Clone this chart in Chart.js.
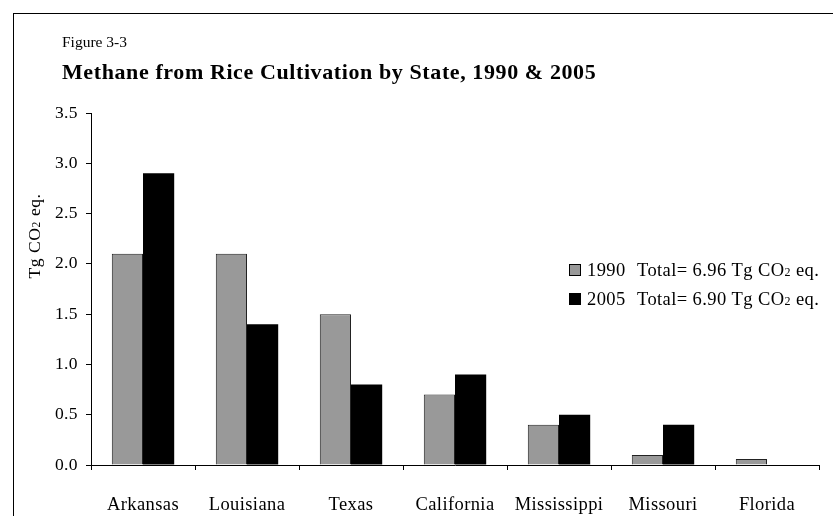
<!DOCTYPE html>
<html>
<head>
<meta charset="utf-8">
<script src="https://cdn.jsdelivr.net/npm/chart.js@4/dist/chart.umd.min.js"></script>
<style>
  html, body { margin: 0; padding: 0; background: #fff; }
  #wrap { position: relative; width: 833px; height: 516px; }
</style>
</head>
<body>
<div id="wrap"><canvas id="c" width="833" height="516"></canvas></div>
<script>
const states = ["Arkansas", "Louisiana", "Texas", "California", "Mississippi", "Missouri", "Florida"];
const values1990 = [2.1, 2.1, 1.5, 0.7, 0.4, 0.1, 0.06];
const values2005 = [2.9, 1.4, 0.8, 0.9, 0.5, 0.4, 0];
const seriesYears = ["1990", "2005"];
const seriesTotals = ["6.96", "6.90"];
const yTicks = [0, 0.5, 1.0, 1.5, 2.0, 2.5, 3.0, 3.5];
const figureLabel = "Figure 3-3";
const titleText = "Methane from Rice Cultivation by State, 1990 & 2005";

const SERIF = "'Liberation Serif', 'Times New Roman', serif";
const GRAY = "#999999";

function measureParts(ctx, parts) {
  let w = 0;
  for (const [t, size] of parts) {
    ctx.font = size + "px " + SERIF;
    w += ctx.measureText(t).width;
  }
  return w;
}
function drawParts(ctx, x, y, parts) {
  let cx = x;
  for (const [t, size, dy] of parts) {
    ctx.font = size + "px " + SERIF;
    ctx.fillText(t, cx, y + dy);
    cx += ctx.measureText(t).width;
  }
  return cx;
}

const spacing = {
  id: "spacing",
  beforeDraw(chart) {
    chart.ctx.letterSpacing = "0.4px";
  }
};

const decor = {
  id: "decor",
  afterDraw(chart) {
    const ctx = chart.ctx;
    ctx.save();
    ctx.strokeStyle = "#000";
    ctx.lineWidth = 1;
    ctx.strokeRect(13.5, 13.5, 820, 520);
    ctx.fillStyle = "#000";
    ctx.textBaseline = "alphabetic";
    ctx.textAlign = "left";
    // figure label
    ctx.letterSpacing = "0px";
    ctx.font = "15.5px " + SERIF;
    ctx.fillText(figureLabel, 62, 47);
    // title
    ctx.letterSpacing = "0.6px";
    ctx.font = "bold 22px " + SERIF;
    ctx.fillText(titleText, 62, 79);
    // y axis title
    ctx.save();
    ctx.letterSpacing = "0.6px";
    ctx.translate(40, 236);
    ctx.rotate(-Math.PI / 2);
    const yParts = [["Tg CO", 17.5, 0], ["2", 11.5, 0], [" eq.", 17.5, 0]];
    const tw = measureParts(ctx, yParts);
    drawParts(ctx, -tw / 2, 0, yParts);
    ctx.restore();
    // legend
    ctx.letterSpacing = "0.4px";
    const rows = [
      { fill: GRAY, year: seriesYears[0], tot: seriesTotals[0], y: 276 },
      { fill: "#000", year: seriesYears[1], tot: seriesTotals[1], y: 305 }
    ];
    for (const r of rows) {
      ctx.fillStyle = r.fill;
      ctx.fillRect(569, r.y - 12, 12, 12);
      ctx.strokeStyle = "#000";
      ctx.lineWidth = 1;
      ctx.strokeRect(569.5, r.y - 11.5, 11, 11);
      ctx.fillStyle = "#000";
      ctx.font = "18.5px " + SERIF;
      ctx.fillText(r.year, 587, r.y);
      drawParts(ctx, 637, r.y, [["Total= " + r.tot + " Tg CO", 18.5, 0], ["2", 12, 0], [" eq.", 18.5, 0]]);
    }
    ctx.restore();
  }
};

new Chart(document.getElementById("c"), {
  type: "bar",
  data: {
    labels: states,
    datasets: [
      { label: seriesYears[0], data: values1990, backgroundColor: GRAY, borderColor: "#222", borderWidth: 1,
        categoryPercentage: 0.6, barPercentage: 1.0 },
      { label: seriesYears[1], data: values2005, backgroundColor: "#000", borderColor: "#000", borderWidth: 0,
        categoryPercentage: 0.6, barPercentage: 1.0 }
    ]
  },
  options: {
    responsive: false,
    animation: false,
    devicePixelRatio: 1,
    layout: { padding: { top: 113, right: 14, left: 0, bottom: 0 } },
    plugins: { legend: { display: false }, tooltip: { enabled: false }, title: { display: false } },
    scales: {
      x: {
        afterFit(s) { s.height = 51; },
        grid: { display: true, drawOnChartArea: false, drawTicks: true, tickLength: 5, color: "#000", offset: true },
        border: { display: true, color: "#000", width: 1 },
        ticks: { color: "#000", font: { family: SERIF, size: 18.5 }, padding: 24, maxRotation: 0, autoSkip: false }
      },
      y: {
        min: 0, max: 3.5,
        afterFit(s) { s.width = 91; },
        afterBuildTicks(s) { s.ticks = yTicks.map(v => ({ value: v })); },
        grid: { display: true, drawOnChartArea: false, drawTicks: true, tickLength: 5, color: "#000" },
        border: { display: true, color: "#000", width: 1 },
        ticks: { color: "#000", font: { family: SERIF, size: 17.5 }, padding: 8,
          callback: v => Number(v).toFixed(1) }
      }
    }
  },
  plugins: [spacing, decor]
});
</script>
</body>
</html>
